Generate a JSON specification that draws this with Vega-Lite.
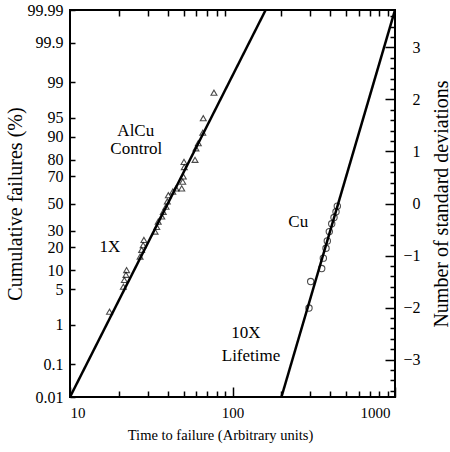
{
  "$schema": "https://vega.github.io/schema/vega-lite/v6.json",
  "width": 325,
  "height": 387,
  "autosize": {"type": "none"},
  "padding": {"left": 70, "top": 10, "right": 55, "bottom": 55},
  "config": {
    "view": {"stroke": "#000", "strokeWidth": 2},
    "font": "'Liberation Serif', 'Times New Roman', 'DejaVu Serif', serif",
    "axis": {
      "grid": false, "domain": false, "tickColor": "#000", "tickWidth": 1.5,
      "labelColor": "#000", "titleColor": "#000",
      "labelFont": "'Liberation Serif', 'Times New Roman', 'DejaVu Serif', serif",
      "titleFont": "'Liberation Serif', 'Times New Roman', 'DejaVu Serif', serif",
      "titleFontWeight": "normal", "labelFontSize": 15, "titleFontSize": 15
    }
  },
  "datasets": {
    "lines": [
      {"series": "AlCu", "t": 10, "z": -3.719},
      {"series": "AlCu", "t": 160, "z": 3.719},
      {"series": "Cu", "t": 200, "z": -3.719},
      {"series": "Cu", "t": 1000, "z": 3.719}
    ],
    "alcu": [
      {"t": 76.9, "z": 2.13}, {"t": 66.1, "z": 1.64}, {"t": 65.6, "z": 1.36},
      {"t": 61.6, "z": 1.16}, {"t": 59.6, "z": 1.06}, {"t": 58.8, "z": 0.84},
      {"t": 50.3, "z": 0.80}, {"t": 50.5, "z": 0.70}, {"t": 49.8, "z": 0.52},
      {"t": 49.4, "z": 0.42}, {"t": 48.7, "z": 0.29}, {"t": 44.9, "z": 0.29},
      {"t": 42.9, "z": 0.23}, {"t": 40.3, "z": 0.16}, {"t": 39.7, "z": 0.04},
      {"t": 39.0, "z": -0.06}, {"t": 37.5, "z": -0.16}, {"t": 36.7, "z": -0.25},
      {"t": 34.9, "z": -0.35}, {"t": 34.2, "z": -0.45}, {"t": 33.4, "z": -0.54},
      {"t": 28.5, "z": -0.70}, {"t": 28.2, "z": -0.80}, {"t": 27.6, "z": -0.89},
      {"t": 27.0, "z": -1.02}, {"t": 22.3, "z": -1.28}, {"t": 22.1, "z": -1.37},
      {"t": 21.6, "z": -1.47}, {"t": 21.3, "z": -1.60}, {"t": 17.5, "z": -2.08}
    ],
    "cu": [
      {"t": 441.6, "z": -0.05}, {"t": 433.5, "z": -0.16}, {"t": 421.3, "z": -0.27},
      {"t": 407.9, "z": -0.39}, {"t": 394.2, "z": -0.54}, {"t": 383.2, "z": -0.72},
      {"t": 376.2, "z": -0.86}, {"t": 362.2, "z": -1.05}, {"t": 354.0, "z": -1.25},
      {"t": 302.8, "z": -1.50}, {"t": 295.6, "z": -2.01}
    ],
    "notes": [
      {"t": 25.4, "z": 1.40, "text": "AlCu"},
      {"t": 25.6, "z": 1.05, "text": "Control"},
      {"t": 17.6, "z": -0.83, "text": "1X"},
      {"t": 254, "z": -0.365, "text": "Cu"},
      {"t": 121, "z": -2.49, "text": "10X"},
      {"t": 130, "z": -2.93, "text": "Lifetime"}
    ]
  },
  "resolve": {"axis": {"x": "independent", "y": "independent"}},
  "layer": [
    {
      "data": {"name": "lines"},
      "mark": {"type": "line", "color": "#000", "strokeWidth": 2.5, "clip": true},
      "encoding": {
        "x": {"field": "t", "type": "quantitative",
          "scale": {"type": "log", "domain": [10, 1000], "nice": false},
          "axis": {"orient": "bottom", "values": [10, 100, 1000], "format": "d",
            "tickSize": -10, "labelPadding": 18,
            "labelOffset": {"condition": {"test": "datum.value == 1000", "value": -5}, "value": 0},
            "title": "Time to failure (Arbitrary units)", "titleFontSize": 14.5, "titleX": 150, "titlePadding": 8}},
        "y": {"field": "z", "type": "quantitative",
          "scale": {"domain": [-3.719, 3.719], "nice": false, "zero": false},
          "axis": {"orient": "left",
            "values": [-3.719, -3.09, -2.326, -1.645, -1.282, -0.842, -0.524, 0, 0.524, 0.842, 1.282, 1.645, 2.326, 3.09, 3.719],
            "labelExpr": "datum.value < -3.4 ? '0.01' : datum.value < -2.7 ? '0.1' : datum.value < -2 ? '1' : datum.value < -1.45 ? '5' : datum.value < -1.05 ? '10' : datum.value < -0.68 ? '20' : datum.value < -0.26 ? '30' : datum.value < 0.26 ? '50' : datum.value < 0.68 ? '70' : datum.value < 1.05 ? '80' : datum.value < 1.45 ? '90' : datum.value < 2 ? '95' : datum.value < 2.7 ? '99' : datum.value < 3.4 ? '99.9' : '99.99'",
            "tickSize": -5, "labelPadding": 12, "labelFontSize": 16,
            "title": "Cumulative failures (%)", "titleFontSize": 20, "titlePadding": 2}},
        "detail": {"field": "series"}
      }
    },
    {
      "data": {"name": "alcu"},
      "mark": {"type": "point", "shape": "triangle-up", "filled": false, "color": "#000", "size": 35, "strokeWidth": 1.1},
      "encoding": {
        "x": {"field": "t", "type": "quantitative",
          "scale": {"type": "log", "domain": [10, 1000], "nice": false},
          "axis": {"orient": "bottom", "values": [20, 30, 40, 50, 60, 70, 80, 90, 200, 300, 400, 500, 600, 700, 800, 900],
            "tickSize": -6, "labels": false, "title": null}},
        "y": {"field": "z", "type": "quantitative",
          "scale": {"domain": [-3.719, 3.719], "nice": false, "zero": false},
          "axis": {"orient": "right", "values": [-3, -2, -1, 0, 1, 2, 3],
            "tickSize": -10, "labelAlign": "right", "labelPadding": 35, "labelFontSize": 16,
            "title": "Number of standard deviations", "titleFontSize": 20, "titleAngle": 270, "titlePadding": 31}}
      }
    },
    {
      "data": {"name": "cu"},
      "mark": {"type": "point", "shape": "circle", "filled": false, "color": "#000", "size": 40, "strokeWidth": 1.1},
      "encoding": {
        "x": {"field": "t", "type": "quantitative",
          "scale": {"type": "log", "domain": [10, 1000], "nice": false},
          "axis": {"orient": "top", "values": [20, 30, 40, 50, 60, 70, 80, 90, 200, 300, 400, 500, 600, 700, 800, 900],
            "tickSize": -6, "labels": false, "title": null}},
        "y": {"field": "z", "type": "quantitative",
          "scale": {"domain": [-3.719, 3.719], "nice": false, "zero": false},
          "axis": {"orient": "right",
            "values": [-3.6, -3.4, -3.2, -2.8, -2.6, -2.4, -2.2, -1.8, -1.6, -1.4, -1.2, -0.8, -0.6, -0.4, -0.2, 0.2, 0.4, 0.6, 0.8, 1.2, 1.4, 1.6, 1.8, 2.2, 2.4, 2.6, 2.8, 3.2, 3.4, 3.6],
            "tickSize": -5, "labels": false, "title": null}}
      }
    },
    {
      "data": {"name": "notes"},
      "mark": {"type": "text", "font": "'Liberation Serif', 'Times New Roman', 'DejaVu Serif', serif", "fontSize": 17, "color": "#000", "align": "center", "baseline": "middle"},
      "encoding": {
        "x": {"field": "t", "type": "quantitative",
          "scale": {"type": "log", "domain": [10, 1000], "nice": false}, "axis": null},
        "y": {"field": "z", "type": "quantitative",
          "scale": {"domain": [-3.719, 3.719], "nice": false, "zero": false}, "axis": null},
        "text": {"field": "text"}
      }
    }
  ]
}
